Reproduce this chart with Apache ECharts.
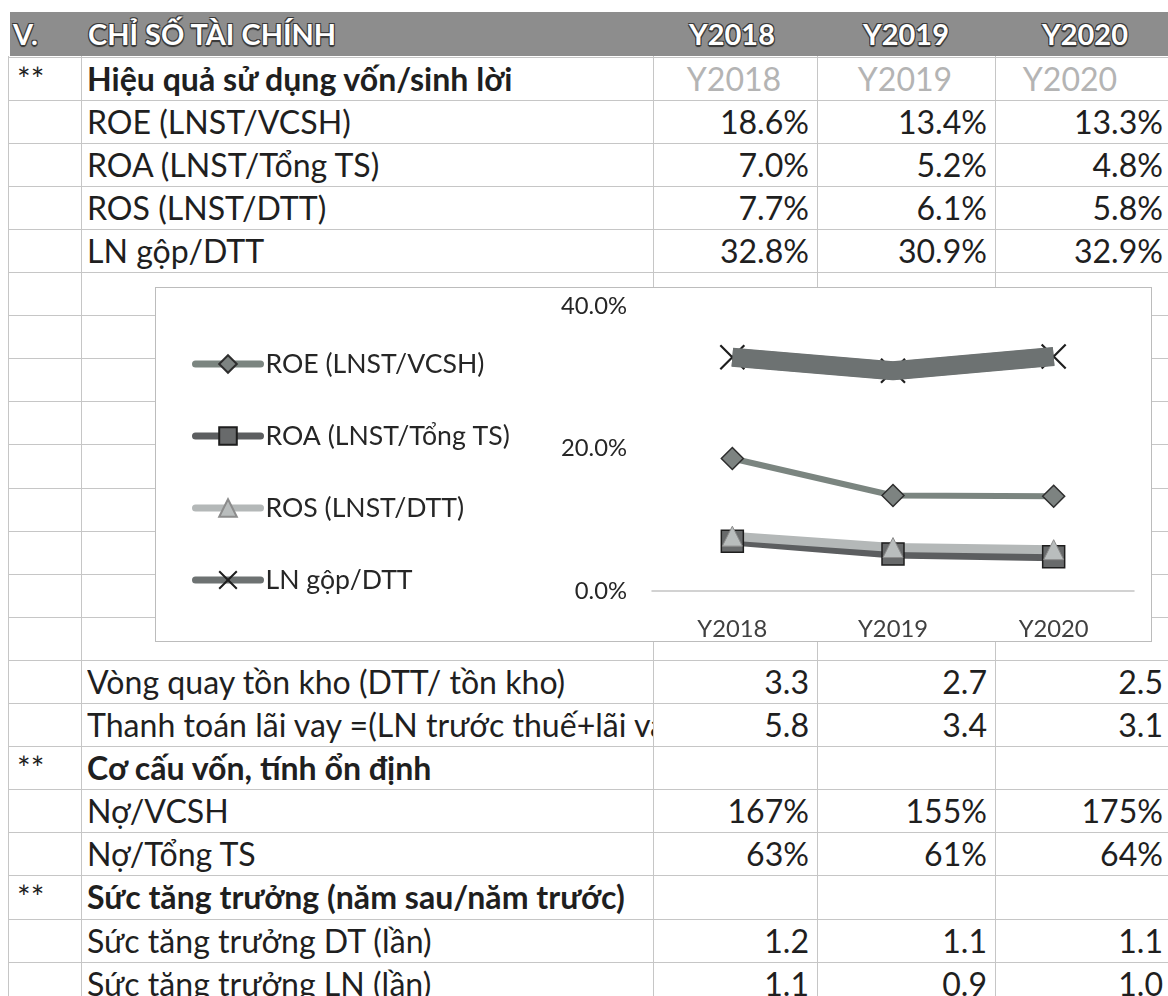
<!DOCTYPE html>
<html><head><meta charset="utf-8">
<script src="https://cdn.jsdelivr.net/npm/echarts@6/dist/echarts.min.js"></script>
<style>
html,body{margin:0;padding:0;}
body{width:1168px;height:996px;overflow:hidden;background:#fff;position:relative;font-family:Lato,"Noto Sans",sans-serif;}
.t{position:absolute;white-space:nowrap;color:#1f1f1f;}
.hl{position:absolute;height:1px;background:#c6c6c6;}
.vl{position:absolute;width:1px;background:#c6c6c6;}
#hdr{position:absolute;left:10px;top:12px;width:1158px;height:44px;background:#8d8d8d;}
.ht{position:absolute;white-space:nowrap;color:#fff;font-weight:bold;
 text-shadow:-1px -1px 0 #3a3a3a,1px -1px 0 #3a3a3a,-1px 1px 0 #3a3a3a,1px 1px 0 #3a3a3a,0 2px 1px #333;}
#chart{position:absolute;left:155px;top:287px;width:997px;height:355px;box-sizing:border-box;border:1.5px solid #bcbcbc;background:#fff;}
</style></head><body>
<div id="hdr"></div>
<div id="chart"></div>
<script>
// ---------- data ----------
const years = ['Y2018', 'Y2019', 'Y2020'];
const seriesNames = ['ROE (LNST/VCSH)', 'ROA (LNST/Tổng TS)', 'ROS (LNST/DTT)', 'LN gộp/DTT'];
const roe = [18.6, 13.4, 13.3];
const roa = [7.0, 5.2, 4.8];
const ros = [7.7, 6.1, 5.8];
const lnGop = [32.8, 30.9, 32.9];
const yTicks = [0, 20, 40];
const invTurnover = ['3.3', '2.7', '2.5'];
const interestCover = ['5.8', '3.4', '3.1'];
const debtEquity = ['167%', '155%', '175%'];
const debtAssets = ['63%', '61%', '64%'];
const growthRevenue = ['1.2', '1.1', '1.1'];
const growthProfit = ['1.1', '0.9', '1.0'];
const headerTitle = ['V.', 'CHỈ SỐ TÀI CHÍNH'];
const sec1 = 'Hiệu quả sử dụng vốn/sinh lời';
const sec2 = 'Cơ cấu vốn, tính ổn định';
const sec3 = 'Sức tăng trưởng (năm sau/năm trước)';
const labInv = 'Vòng quay tồn kho (DTT/ tồn kho)';
const labInt = 'Thanh toán lãi vay =(LN trước thuế+lãi vay';
const labDE = 'Nợ/VCSH';
const labDA = 'Nợ/Tổng TS';
const labGR = 'Sức tăng trưởng DT (lần)';
const labGP = 'Sức tăng trưởng LN (lần)';

// ---------- layout helpers ----------
const FAM = 'Lato, "Noto Sans", sans-serif';
const cv = document.createElement('canvas').getContext('2d');
function fit(text, weight, target) {
  cv.font = weight + ' 100px ' + FAM;
  return 100 * target / cv.measureText(text).width;
}
const fsTable = fit(labInv, 'normal', 479);
const fsHead = fit(headerTitle[1], 'bold', 249);
const fsLegend = fit(seriesNames[0], 'normal', 219);
const fsAxis = fit('Y2018', 'normal', 70);

const ROW0 = 56.5, RH = 43.1;
const colLines = [8, 81, 653, 817, 995];
const valRight = [809, 987, 1163];
const body = document.body;
function el(cls, css, txt) {
  const d = document.createElement('div');
  d.className = cls; Object.assign(d.style, css);
  if (txt !== undefined) d.textContent = txt;
  body.insertBefore(d, document.getElementById('chart'));
  return d;
}
// grid lines
for (let i = 0; i <= 22; i++) el('hl', {left: '8px', width: '1160px', top: Math.round(ROW0 + RH * i) + 'px'});
colLines.forEach(x => el('vl', {left: x + 'px', top: '56px', height: '940px'}));

// header
const hCss = (x, w, align) => ({left: x + 'px', top: '12px', height: '44px', lineHeight: '44px', fontSize: fsHead + 'px', width: w + 'px', textAlign: align});
el('ht', hCss(13, 60, 'left'), headerTitle[0]);
el('ht', hCss(88, 400, 'left'), headerTitle[1]);
const hdrCenters = [732, 906, 1085];
years.forEach((y, i) => el('ht', hCss(hdrCenters[i] - 60, 120, 'center'), y));

function rowText(i, x, txt, opts = {}) {
  const top = ROW0 + RH * i;
  const css = {top: top + 'px', height: RH + 'px', lineHeight: RH + 'px', fontSize: fsTable + 'px'};
  if (opts.right !== undefined) { css.left = (opts.right - 200) + 'px'; css.width = '200px'; css.textAlign = 'right'; }
  else if (opts.center !== undefined) { css.left = (opts.center - 100) + 'px'; css.width = '200px'; css.textAlign = 'center'; }
  else { css.left = x + 'px'; }
  if (opts.clip) { css.width = opts.clip + 'px'; css.overflow = 'hidden'; }
  if (opts.bold) css.fontWeight = 'bold';
  if (opts.color) css.color = opts.color;
  el('t', css, txt);
}
function valueRow(i, label, vals, bold) {
  rowText(i, 87, label, {clip: 653 - 87, bold});
  vals.forEach((v, k) => rowText(i, 0, v, {right: valRight[k]}));
}
const pct = a => a.map(v => v.toFixed(1) + '%');
// section 1
rowText(0, 17, '**');
rowText(0, 87, sec1, {bold: true});
const grayCenters = [734, 905, 1070];
years.forEach((y, k) => rowText(0, 0, y, {center: grayCenters[k], color: '#b4b4b4'}));
valueRow(1, seriesNames[0], pct(roe));
valueRow(2, seriesNames[1], pct(roa));
valueRow(3, seriesNames[2], pct(ros));
valueRow(4, seriesNames[3], pct(lnGop));
valueRow(14, labInv, invTurnover);
valueRow(15, labInt, interestCover);
rowText(16, 17, '**');
rowText(16, 87, sec2, {bold: true});
valueRow(17, labDE, debtEquity);
valueRow(18, labDA, debtAssets);
rowText(19, 17, '**');
rowText(19, 87, sec3, {bold: true, clip: 653 - 87});
valueRow(20, labGR, growthRevenue);
valueRow(21, labGP, growthProfit);

// ---------- chart ----------
const chart = echarts.init(document.getElementById('chart'), null, {renderer: 'canvas'});
const X = 'path://M0,0L10,10M10,0L0,10';
const mk = (name, data, color, width, symbol, size, fill, border, bw, z) => ({
  name, type: 'line', data: data.map(v => v / 100), symbol, symbolSize: size,
  lineStyle: {color, width}, itemStyle: {color: fill, borderColor: border, borderWidth: bw},
  emphasis: {disabled: true}, z: z || 2
});
chart.setOption({
  animation: false,
  textStyle: {fontFamily: FAM},
  grid: {left: 496, right: 17, top: 18, bottom: 45},
  legend: {
    orient: 'vertical', left: 36, top: 61, padding: 0, itemWidth: 65, itemHeight: 22, itemGap: 42,
    textStyle: {fontSize: fsLegend, color: '#262626', lineHeight: 30, fontFamily: FAM},
    lineStyle: {width: 7, cap: 'round'},
    data: seriesNames, selectedMode: false
  },
  xAxis: {
    type: 'category', data: years, boundaryGap: true,
    axisLine: {lineStyle: {color: '#c4c4c4', width: 1.5}}, axisTick: {show: false},
    axisLabel: {fontSize: fsAxis, color: '#404040', margin: 26, fontFamily: FAM}
  },
  yAxis: {
    type: 'value', min: yTicks[0] / 100, max: yTicks[2] / 100, interval: (yTicks[1] - yTicks[0]) / 100,
    axisLine: {show: false}, axisTick: {show: false}, splitLine: {show: false},
    axisLabel: {fontSize: fsAxis, color: '#262626', margin: 25, fontFamily: FAM,
      formatter: v => (v * 100).toFixed(1) + '%'}
  },
  series: [
    mk(seriesNames[0], roe, '#7b8580', 6, 'diamond', 22, '#7d8381', '#2e2e2e', 1.5),
    mk(seriesNames[1], roa, '#5c5e60', 9, 'rect', 22, '#686a6b', '#1e1e1e', 1.5),
    mk(seriesNames[2], ros, '#b4b8b8', 9, 'triangle', 20, '#b9bdbd', '#8c8c8c', 1),
    mk(seriesNames[3], lnGop, '#6d7272', 18, X, 24, '#1e1e1e', '#1e1e1e', 2.2),
    // band of LN gộp/DTT drawn over its own cross markers, as in the reference
    Object.assign(mk('lnBand', lnGop, '#6d7272', 19, 'none', 0, '#6d7272', '#6d7272', 0, 3), {silent: true})
  ]
});
</script>
</body></html>
